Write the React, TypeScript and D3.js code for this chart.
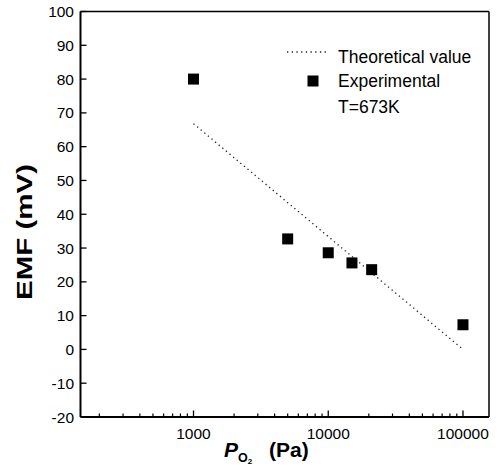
import React from "react";
import * as d3 from "d3";

const expPressure = [1000, 5000, 10000, 15000, 21000, 100000];
const expEMF = [80, 32.7, 28.6, 25.6, 23.6, 7.3];
const theoPressure = [1000, 10000, 100000];
const theoEMF = [66.8, 33.4, 0];
const yTicks = [-20, -10, 0, 10, 20, 30, 40, 50, 60, 70, 80, 90, 100];
const xMajorTicks = [1000, 10000, 100000];
const xTickLabels = ["1000", "10000", "100000"];
const legendLabels = ["Theoretical value", "Experimental", "T=673K"];

const W = 504;
const H = 475;
const left = 80.5;
const right = 489;
const top = 11.5;
const bottom = 417;

export default function App() {
  const x = d3.scaleLog().domain([145, 156000]).range([left, right]);
  const y = d3.scaleLinear().domain([-20, 100]).range([bottom, top]);

  const minorTicks: number[] = [];
  for (const dec of [100, 1000, 10000]) {
    for (let k = 2; k <= 9; k++) {
      const v = dec * k;
      if (v > 145 && v < 156000) minorTicks.push(v);
    }
  }

  const line = d3
    .line<number>()
    .x((_, i) => x(theoPressure[i]))
    .y((d) => y(d));

  const font = "'Liberation Sans', Arial, Helvetica, sans-serif";
  const sq = 11;

  return (
    <svg
      width={W}
      height={H}
      style={{ position: "absolute", left: 0, top: 0, background: "#fff" }}
      fontFamily={font}
    >
      {/* frame */}
      <line x1={left} x2={right} y1={top} y2={top} stroke="#000" strokeWidth={1.5} />
      <line x1={right} x2={right} y1={top} y2={bottom} stroke="#000" strokeWidth={1.5} />
      <line x1={left} x2={left} y1={top} y2={bottom} stroke="#000" strokeWidth={2} />
      <line x1={left} x2={right} y1={bottom} y2={bottom} stroke="#000" strokeWidth={2} />

      {/* y ticks */}
      {yTicks.map((t) => (
        <g key={"y" + t}>
          <line x1={left} x2={left + 6} y1={y(t)} y2={y(t)} stroke="#000" strokeWidth={1.3} />
          <text
            x={74}
            y={y(t)}
            textAnchor="end"
            dominantBaseline="central"
            fontSize={15.5}
            fill="#000"
          >
            {t}
          </text>
        </g>
      ))}

      {/* x ticks */}
      {minorTicks.map((t) => (
        <line key={"m" + t} x1={x(t)} x2={x(t)} y1={bottom} y2={bottom - 3.5} stroke="#000" strokeWidth={1.2} />
      ))}
      {xMajorTicks.map((t, i) => (
        <g key={"x" + t}>
          <line x1={x(t)} x2={x(t)} y1={bottom} y2={bottom - 6.5} stroke="#000" strokeWidth={1.3} />
          <text x={x(t)} y={438.5} textAnchor="middle" fontSize={15.5} fill="#000">
            {xTickLabels[i]}
          </text>
        </g>
      ))}

      {/* theoretical line */}
      <path
        d={line(theoEMF) || ""}
        fill="none"
        stroke="#222"
        strokeWidth={1.3}
        strokeDasharray="1.3,3.4"
      />

      {/* experimental points */}
      {expPressure.map((p, i) => (
        <rect
          key={"p" + i}
          x={x(p) - sq / 2}
          y={y(expEMF[i]) - sq / 2}
          width={sq}
          height={sq}
          fill="#000"
        />
      ))}

      {/* legend */}
      <line x1={287} x2={327} y1={52} y2={52} stroke="#222" strokeWidth={1.3} strokeDasharray="1.3,3.4" />
      <text x={338} y={63} fontSize={17.5} fill="#000">{legendLabels[0]}</text>
      <rect x={307.5} y={75.5} width={sq} height={sq} fill="#000" />
      <text x={338} y={87} fontSize={17.5} fill="#000">{legendLabels[1]}</text>
      <text x={338} y={113} fontSize={17.5} fill="#000">{legendLabels[2]}</text>

      {/* y title */}
      <text
        transform="translate(32,232) rotate(-90)"
        textAnchor="middle"
        fontSize={22}
        fontWeight="bold"
        fill="#000"
        textLength={136}
        lengthAdjust="spacingAndGlyphs"
      >
        EMF (mV)
      </text>

      {/* x title */}
      <text x={224} y={457} fontSize={21} fontWeight="bold" fill="#000">
        <tspan fontStyle="italic">P</tspan>
        <tspan fontSize={12.5} dy={5}>O</tspan>
        <tspan fontSize={8} dy={2}>2</tspan>
        <tspan dy={-7} x={269}>(Pa)</tspan>
      </text>
    </svg>
  );
}
